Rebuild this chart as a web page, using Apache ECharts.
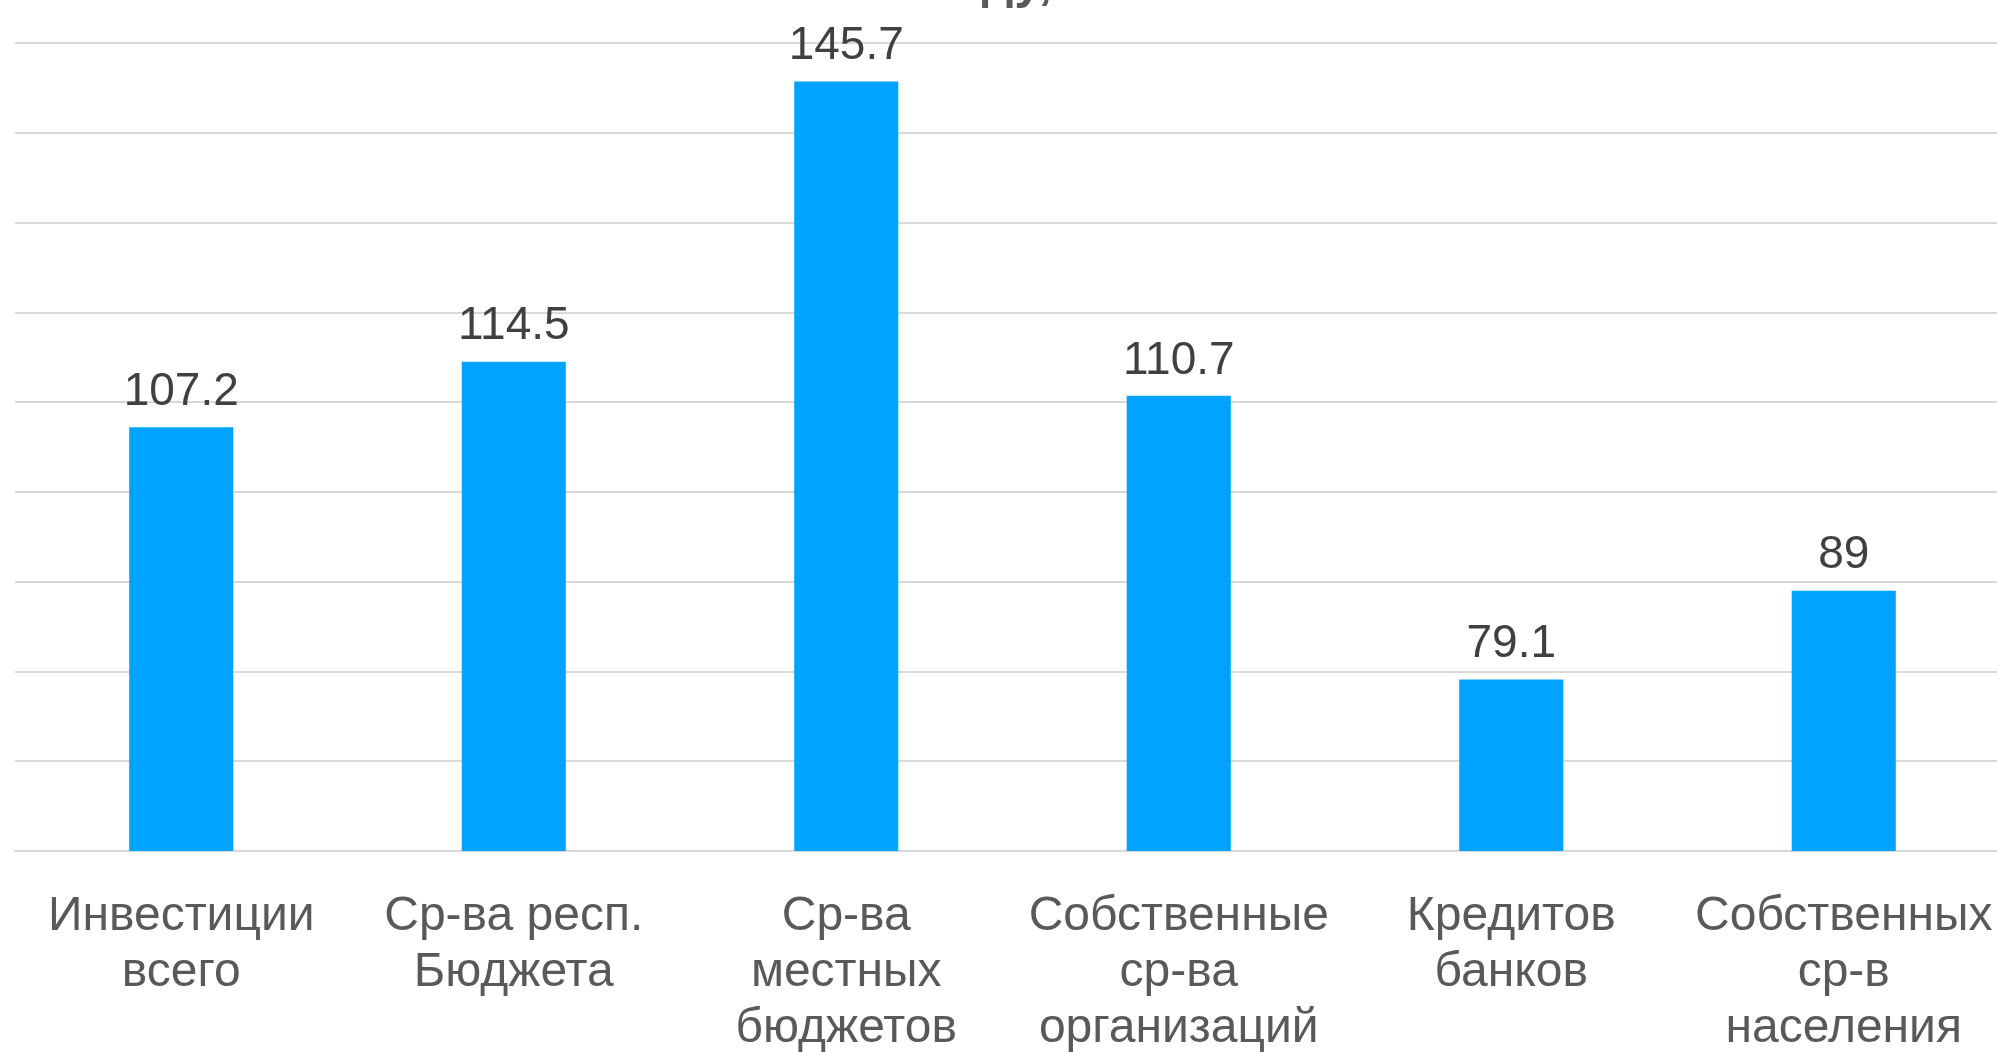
<!DOCTYPE html>
<html>
  <head>
    <meta http-equiv="Content-Type" content="text/html; charset=utf-8" />
    <title>Источники финансирования</title>
    <script src="https://cdn.jsdelivr.net/npm/echarts@6/dist/echarts.min.js"></script>
    <style>
      html, body { margin: 0; padding: 0; width: 100%; height: 100%; overflow: hidden; background: #fff; }
      #chart { width: 100%; height: 100%; }
    </style>
  </head>
  <body>
    <div id="chart"></div>
    <script type="text/javascript">
      "use strict"

      // категории (переносы строк как на исходной картинке)
      const categories = [
        "Инвестиции\nвсего",
        "Ср-ва респ.\nБюджета",
        "Ср-ва\nместных\nбюджетов",
        "Собственные\nср-ва\nорганизаций",
        "Кредитов\nбанков",
        "Собственных\nср-в\nнаселения"
      ]
      const values = [107.2, 114.5, 145.7, 110.7, 79.1, 89]

      // шкала (подписи оси скрыты)
      const yMin = 60
      const yMax = 150
      const yStep = 10

      // заголовок обрезан сверху, видны только нижние хвосты букв
      const titleText = "Рост к 2022 году, %"

      const font = "'Liberation Sans', Arial, Helvetica, sans-serif"
      const myChart = echarts.init(document.getElementById("chart"))

      const option = {
        backgroundColor: "#ffffff",
        animation: false,
        textStyle: { fontFamily: font },
        title: {
          text: titleText,
          left: 870,
          textAlign: "center",
          top: -46,
          textStyle: {
            fontFamily: font,
            fontSize: 50,
            fontWeight: "bold",
            color: "#595959"
          }
        },
        grid: {
          left: 15,
          width: 1995,
          top: 43,
          bottom: 201,
          containLabel: false,
          outerBoundsMode: "none"
        },
        xAxis: {
          type: "category",
          data: categories,
          axisTick: { show: false },
          axisLine: {
            lineStyle: { color: "#d9d9d9", width: 2 }
          },
          axisLabel: {
            interval: 0,
            margin: 38,
            fontSize: 48,
            lineHeight: 56,
            color: "#595959",
            fontFamily: font
          }
        },
        yAxis: {
          type: "value",
          min: yMin,
          max: yMax,
          interval: yStep,
          axisLabel: { show: false },
          axisTick: { show: false },
          axisLine: { show: false },
          splitLine: {
            lineStyle: { color: "#d9d9d9", width: 2 }
          }
        },
        series: [
          {
            type: "bar",
            data: values,
            barWidth: "31.3%",
            itemStyle: { color: "#00a3ff" },
            label: {
              show: true,
              position: "top",
              distance: 12,
              fontSize: 46,
              color: "#404040",
              fontFamily: font
            }
          }
        ]
      }
      myChart.setOption(option, true)
    </script>
  </body>
</html>
